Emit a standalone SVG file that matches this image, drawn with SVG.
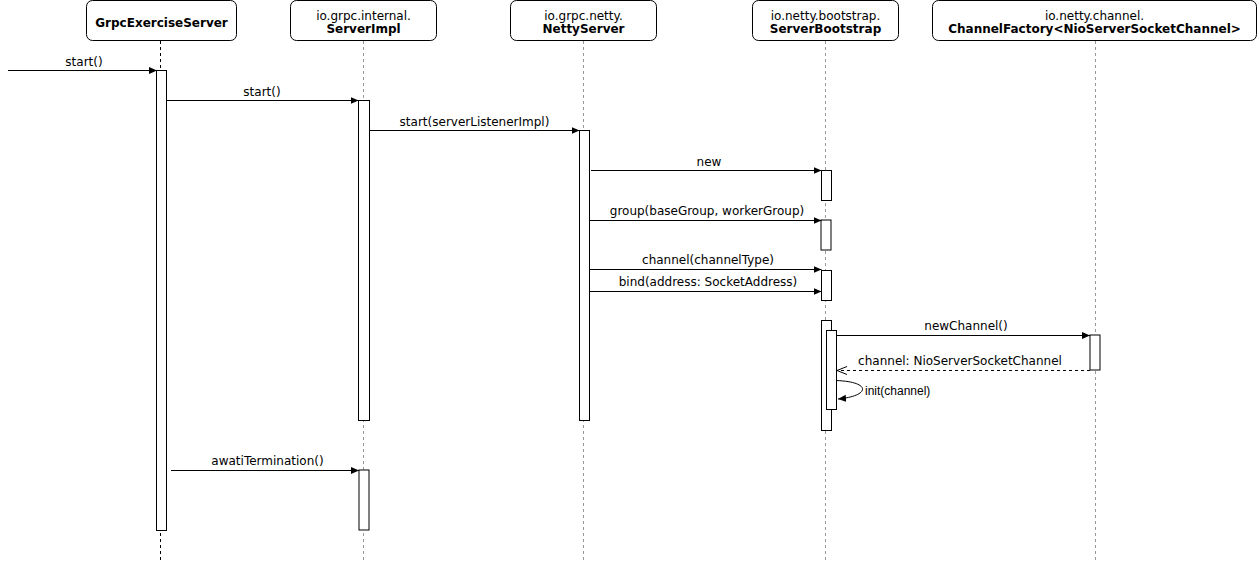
<svg xmlns="http://www.w3.org/2000/svg" width="1258" height="561" viewBox="0 0 1258 561">
<style>
.box{fill:#fff;stroke:#000;stroke-width:1}
.bar{fill:#fff;stroke:#000;stroke-width:1}
.life{stroke:#999;stroke-width:1;stroke-dasharray:3 3;fill:none}
.life0{stroke:#000;stroke-width:1;stroke-dasharray:3 3;fill:none}
.msg{stroke:#000;stroke-width:1;fill:none;marker-end:url(#block)}
.ret{stroke:#000;stroke-width:1;fill:none;stroke-dasharray:3 3;marker-end:url(#open)}
text{font-family:"DejaVu Sans",Verdana,sans-serif;font-size:12px;fill:#000}
.t{text-anchor:middle}
.b{font-weight:bold}
.small{font-family:"Liberation Sans",Arial,sans-serif;font-size:12px}
</style>
<defs>
<marker id="block" viewBox="0 0 8 8" refX="8" refY="4" markerWidth="8" markerHeight="8" markerUnits="userSpaceOnUse" orient="auto"><path d="M0,0.5 L8,4 L0,7.5 z" fill="#000"/></marker>
<marker id="open" viewBox="0 0 11 10" refX="10.5" refY="5" markerWidth="11" markerHeight="10" markerUnits="userSpaceOnUse" orient="auto"><path d="M0.5,1 L10.5,5 L0.5,9" fill="none" stroke="#000" stroke-width="1"/></marker>
</defs>

<g id="lifelines">
<line class="life0" x1="160.5" y1="41" x2="160.5" y2="561"/>
<line class="life" x1="363.5" y1="41" x2="363.5" y2="561"/>
<line class="life" x1="583.5" y1="41" x2="583.5" y2="561"/>
<line class="life" x1="825.5" y1="41" x2="825.5" y2="561"/>
<line class="life" x1="1095.5" y1="41" x2="1095.5" y2="561"/>
</g>

<g id="node-grpc">
<rect class="box" x="86.5" y="0.5" width="150" height="40" rx="6"/>
<text class="t b" x="161.5" y="26.5">GrpcExerciseServer</text>
</g>
<g id="node-serverimpl">
<rect class="box" x="290.5" y="0.5" width="146" height="40" rx="6"/>
<text class="t" x="363.5" y="20">io.grpc.internal.</text>
<text class="t b" x="363.5" y="33">ServerImpl</text>
</g>
<g id="node-nettyserver">
<rect class="box" x="510.5" y="0.5" width="146" height="40" rx="6"/>
<text class="t" x="583.5" y="20">io.grpc.netty.</text>
<text class="t b" x="583.5" y="33">NettyServer</text>
</g>
<g id="node-serverbootstrap">
<rect class="box" x="752.5" y="0.5" width="146" height="40" rx="6"/>
<text class="t" x="825.5" y="20">io.netty.bootstrap.</text>
<text class="t b" x="825.5" y="33">ServerBootstrap</text>
</g>
<g id="node-channelfactory">
<rect class="box" x="932.5" y="0.5" width="324" height="40" rx="6"/>
<text class="t" x="1094.5" y="20">io.netty.channel.</text>
<text class="t b" x="1094.5" y="33">ChannelFactory&lt;NioServerSocketChannel&gt;</text>
</g>

<g id="activations">
<rect class="bar" x="156.5" y="70.5" width="10" height="460"/>
<rect class="bar" x="358.5" y="100.5" width="11" height="320"/>
<rect class="bar" x="359" y="470" width="10" height="60"/>
<rect class="bar" x="579.5" y="130.5" width="10" height="290"/>
<rect class="bar" x="821.5" y="170.5" width="10" height="30"/>
<rect class="bar" x="821" y="220" width="10" height="30"/>
<rect class="bar" x="821.5" y="270.5" width="10" height="30"/>
<rect class="bar" x="821.5" y="320.5" width="10" height="110"/>
<rect class="bar" x="826.5" y="330.5" width="10" height="79"/>
<rect class="bar" x="1090" y="335" width="10" height="35"/>
</g>

<g id="connectors">
<line class="msg" x1="8" y1="70.5" x2="157" y2="70.5"/>
<text class="t" x="84" y="66">start()</text>
<line class="msg" x1="166.5" y1="100.5" x2="358.5" y2="100.5"/>
<text class="t" x="262" y="96">start()</text>
<line class="msg" x1="369.5" y1="130.5" x2="579.5" y2="130.5"/>
<text class="t" x="474.5" y="126">start(serverListenerImpl)</text>
<line class="msg" x1="591" y1="170.5" x2="821.5" y2="170.5"/>
<text class="t" x="709" y="166">new</text>
<line class="msg" x1="589.5" y1="220.5" x2="821.5" y2="220.5"/>
<text class="t" x="707" y="215">group(baseGroup, workerGroup)</text>
<line class="msg" x1="589.5" y1="269.5" x2="821.5" y2="269.5"/>
<text class="t" x="708" y="264">channel(channelType)</text>
<line class="msg" x1="589.5" y1="291.5" x2="821.5" y2="291.5"/>
<text class="t" x="708" y="286">bind(address: SocketAddress)</text>
<line class="msg" x1="836.5" y1="335.5" x2="1090" y2="335.5"/>
<text class="t" x="966" y="330">newChannel()</text>
<line class="ret" x1="1090" y1="370.5" x2="837" y2="370.5"/>
<text class="t" x="960" y="365">channel: NioServerSocketChannel</text>
<path class="msg" d="M836.5,380.5 C872,382 870,396 838,399"/>
<text class="small" x="865" y="395">init(channel)</text>
<line class="msg" x1="171" y1="470.5" x2="359" y2="470.5"/>
<text class="t" x="267.5" y="465">awatiTermination()</text>
</g>
</svg>
